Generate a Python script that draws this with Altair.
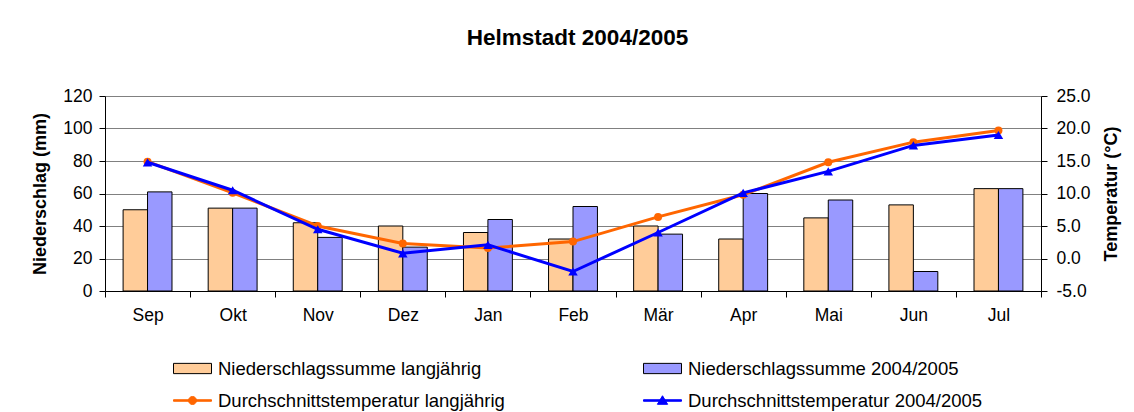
import altair as alt
import pandas as pd

# ---------------- data ----------------
months = ["Sep", "Okt", "Nov", "Dez", "Jan", "Feb", "Mär", "Apr", "Mai", "Jun", "Jul"]
precip_lang = [50, 51, 42, 40, 36, 32, 40, 32, 45, 53, 63]
precip_0405 = [61, 51, 33, 27, 44, 52, 35, 60, 56, 12, 63]
temp_lang = [14.9, 10.1, 5.0, 2.3, 1.6, 2.6, 6.4, 9.8, 14.8, 17.9, 19.7]
temp_0405 = [14.8, 10.5, 4.5, 0.8, 2.1, -2.0, 4.0, 10.1, 13.4, 17.4, 19.0]

series_names = [
    "Niederschlagssumme langjährig",
    "Niederschlagssumme 2004/2005",
    "Durchschnittstemperatur langjährig",
    "Durchschnittstemperatur 2004/2005",
]
fill_colors = ["#FFCC99", "#9999FF", "#FF6600", "#0000FF"]
stroke_colors = ["#000000", "#000000", "#FF6600", "#0000FF"]
precip_ticks = [0, 20, 40, 60, 80, 100, 120]
temp_ticks = [-5, 0, 5, 10, 15, 20, 25]

# legend symbol shapes (unit square -1..1)
shape_paths = [
    "M-1,-0.27L1,-0.27L1,0.27L-1,0.27Z",
    "M-1,-0.27L1,-0.27L1,0.27L-1,0.27Z",
    "M-1,-0.04L1,-0.04L1,0.04L-1,0.04Z M-0.21,0A0.21,0.21 0 1 1 0.21,0A0.21,0.21 0 1 1 -0.21,0Z",
    "M-1,-0.04L1,-0.04L1,0.04L-1,0.04Z M-0.27,0.2L0,-0.25L0.27,0.2Z",
]

precip_df = pd.DataFrame({
    "month": months * 2,
    "series": [series_names[0]] * len(months) + [series_names[1]] * len(months),
    "precip": precip_lang + precip_0405,
})
temp_df = pd.DataFrame({
    "month": months * 2,
    "series": [series_names[2]] * len(months) + [series_names[3]] * len(months),
    "temp": temp_lang + temp_0405,
})
legend_df = pd.DataFrame({"series": series_names})

FONT = "Liberation Sans"

x_enc = alt.X(
    "month:N",
    scale=alt.Scale(type="band", domain=months, paddingInner=0, paddingOuter=0),
    axis=alt.Axis(title=None, labelAngle=0, tickBand="extent", tickSize=6,
                  labelPadding=9, labelFontSize=17.5, grid=False),
)
# colour scale for the marks (domain order differs from the legend scales so the
# disabled colour legend is not merged with the real legend)
color_scale = alt.Scale(domain=series_names[::-1], range=fill_colors[::-1])

y_precip = alt.Y(
    "precip:Q",
    scale=alt.Scale(domain=[0, 120], nice=False),
    axis=alt.Axis(title="Niederschlag (mm)", values=precip_ticks, grid=True,
                  gridColor="#808080", gridOpacity=1, tickSize=6, labelPadding=7,
                  labelFontSize=17.5, titleFontSize=18, titleFontWeight="bold",
                  titlePadding=13),
)
y_temp = alt.Y(
    "temp:Q",
    scale=alt.Scale(domain=[-5, 25], nice=False),
    axis=alt.Axis(orient="right", title="Temperatur (°C)", values=temp_ticks,
                  labelExpr="replace(format(datum.value, '.1f'), '\u2212', '-')",
                  grid=False, tickSize=6, labelPadding=9, labelFontSize=17.5,
                  titleFontSize=18, titleFontWeight="bold", titleAngle=270,
                  titlePadding=30),
)

col_none = alt.Color("series:N", scale=color_scale, legend=None)

bars = alt.Chart(precip_df).mark_bar(stroke="black", strokeWidth=1).encode(
    x=x_enc,
    xOffset=alt.XOffset("series:N", scale=alt.Scale(domain=series_names[:2], paddingInner=0, paddingOuter=0.74)),
    y=y_precip,
    color=col_none,
)

line_l = alt.Chart(temp_df).transform_filter(alt.datum.series == series_names[2]).mark_line(
    strokeWidth=3).encode(x=x_enc, y=y_temp, color=col_none)
pts_l = alt.Chart(temp_df).transform_filter(alt.datum.series == series_names[2]).mark_point(
    filled=True, shape="circle", size=64, opacity=1).encode(x=x_enc, y=y_temp, color=col_none)
line_b = alt.Chart(temp_df).transform_filter(alt.datum.series == series_names[3]).mark_line(
    strokeWidth=3).encode(x=x_enc, y=y_temp, color=col_none)
pts_b = alt.Chart(temp_df).transform_filter(alt.datum.series == series_names[3]).mark_point(
    filled=True, shape="triangle-up", size=90, opacity=1).encode(x=x_enc, y=y_temp, color=col_none)

leg = alt.Legend(
    title=None, orient="none", direction="horizontal", legendX=68, legendY=253, columns=2,
    columnPadding=136, rowPadding=3, symbolSize=1444, symbolStrokeWidth=1,
    labelFontSize=18.5, labelFont=FONT, labelColor="black", labelOffset=6,
    labelLimit=600, padding=0,
)
# legend-only layer (no rows drawn): fill, stroke and shape share one legend
legend_layer = alt.Chart(legend_df).transform_filter("false").mark_point(
    filled=True, opacity=1, strokeWidth=1).encode(
    fill=alt.Fill("series:N", scale=alt.Scale(domain=series_names, range=fill_colors), legend=leg),
    stroke=alt.Stroke("series:N", scale=alt.Scale(domain=series_names, range=stroke_colors), legend=leg),
    shape=alt.Shape("series:N", scale=alt.Scale(domain=series_names, range=shape_paths), legend=leg),
)

temp_layer = alt.layer(line_l, pts_l, line_b, pts_b)

chart = alt.layer(bars, temp_layer, legend_layer).resolve_scale(y="independent").properties(
    width=936,
    height=195,
    autosize=alt.AutoSizeParams(type="none"),
    padding={"left": 97, "top": 88, "right": 85, "bottom": 121},
    title=alt.Title("Helmstadt 2004/2005", fontSize=22.5, font=FONT, fontWeight="bold",
                    anchor="middle", offset=38, dx=4.5, color="black"),
).configure(font=FONT).configure_view(stroke=None).configure_axis(
    labelFont=FONT, titleFont=FONT, labelColor="black", titleColor="black",
    domainColor="black", tickColor="black",
)

chart.save("out.html", embed_options={"renderer": "svg", "actions": False})
